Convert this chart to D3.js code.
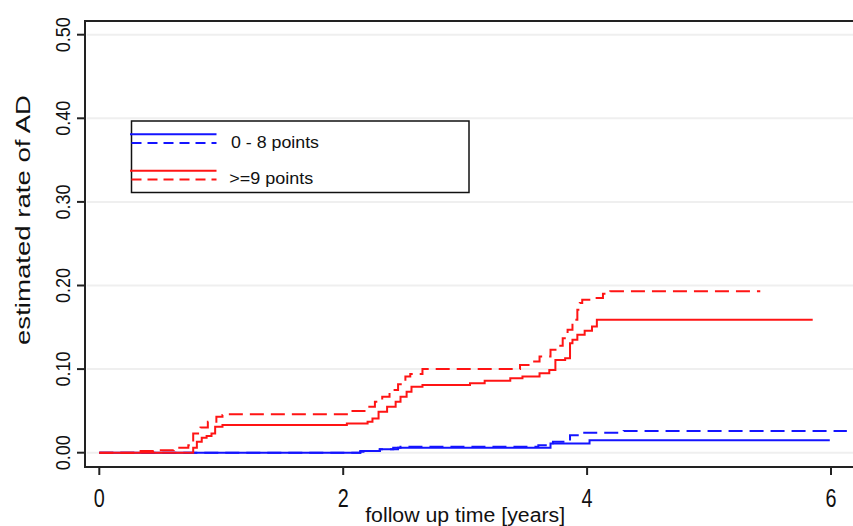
<!DOCTYPE html>
<html>
<head>
<meta charset="utf-8">
<script src="https://cdn.jsdelivr.net/npm/d3@7"></script>
<style>
  body { margin: 0; background: #fff; }
  text { font-family: "Liberation Sans", Arial, sans-serif; fill: #111; }
</style>
</head>
<body>
<div id="app"></div>
<script>
const width = 853;
const height = 526;

// tick values / labels
const xTicks = [0, 2, 4, 6];
const yTicks = [0, 0.1, 0.2, 0.3, 0.4, 0.5];
const yTickLabels = ["0.00", "0.10", "0.20", "0.30", "0.40", "0.50"];

// step curves: [years, rate] at each step
const blueSolid = [
  [0, 0], [2.14, 0.002], [2.3, 0.004], [2.45, 0.006], [3.7, 0.011],
  [4.02, 0.015], [5.99, 0.015]
];
const blueDashed = [
  [0, 0], [2.14, 0.001], [2.22, 0.002], [2.3, 0.004], [2.41, 0.006],
  [2.47, 0.007], [3.6, 0.009], [3.72, 0.013], [3.86, 0.021], [3.96, 0.024],
  [4.3, 0.026], [6.13, 0.026]
];
const redSolid = [
  [0, 0], [0.77, 0.006], [0.8, 0.013], [0.84, 0.018], [0.88, 0.02],
  [0.92, 0.023], [0.95, 0.031], [1.01, 0.033], [2.03, 0.035], [2.2, 0.037],
  [2.24, 0.041], [2.29, 0.049], [2.36, 0.055], [2.43, 0.061], [2.47, 0.067],
  [2.52, 0.073], [2.56, 0.079], [2.65, 0.081], [3.04, 0.083], [3.16, 0.086],
  [3.37, 0.089], [3.47, 0.091], [3.61, 0.095], [3.69, 0.099], [3.74, 0.111],
  [3.82, 0.113], [3.86, 0.131], [3.88, 0.135], [3.92, 0.141], [3.98, 0.146],
  [4.04, 0.151], [4.08, 0.159], [5.85, 0.159]
];
const redDashed = [
  [0, 0], [0.29, 0.002], [0.44, 0.003], [0.61, 0.006], [0.73, 0.009],
  [0.77, 0.023], [0.83, 0.03], [0.89, 0.037], [0.96, 0.043], [1.01, 0.045],
  [1.05, 0.046], [2.03, 0.05], [2.2, 0.055], [2.26, 0.061], [2.32, 0.067],
  [2.38, 0.075], [2.45, 0.082], [2.51, 0.091], [2.55, 0.094], [2.65, 0.1],
  [3.45, 0.105], [3.53, 0.109], [3.61, 0.115], [3.7, 0.123], [3.75, 0.128],
  [3.8, 0.137], [3.84, 0.147], [3.88, 0.159], [3.92, 0.171], [3.94, 0.179],
  [3.96, 0.183], [4.05, 0.185], [4.13, 0.19], [4.19, 0.193], [5.42, 0.193]
];

const legendLabels = ["0 - 8 points", ">=9 points"];
const colors = ["#1414ff", "#ff1414"];

const series = [
  { data: blueSolid, color: colors[0], dash: null },
  { data: blueDashed, color: colors[0], dash: "14,7" },
  { data: redDashed, color: colors[1], dash: "14,7" },
  { data: redSolid, color: colors[1], dash: null }
];

document.getElementById("app").innerHTML = `
  <svg width="${width}" height="${height}"></svg>
`;
const svg = d3.select("svg");

const frame = { left: 85, top: 21, bottom: 467 };
const x = d3.scaleLinear().domain([0, 6]).range([99.3, 831]);
const y = d3.scaleLinear().domain([0, 0.5]).range([452.7, 34.7]);

// faint grid
svg
  .append("g")
  .selectAll("line")
  .data(yTicks)
  .enter()
  .append("line")
  .attr("x1", frame.left + 2)
  .attr("x2", width)
  .attr("y1", d => y(d))
  .attr("y2", d => y(d))
  .style("stroke", "#efefef")
  .style("stroke-width", 2);

// frame
svg
  .append("path")
  .attr("d", `M${width + 5},${frame.top}H${frame.left}V${frame.bottom}H${width + 5}`)
  .style("fill", "none")
  .style("stroke", "#222")
  .style("stroke-width", 2);

// y ticks
svg
  .append("g")
  .selectAll("line")
  .data(yTicks)
  .enter()
  .append("line")
  .attr("x1", 77)
  .attr("x2", frame.left)
  .attr("y1", d => y(d))
  .attr("y2", d => y(d))
  .style("stroke", "#222")
  .style("stroke-width", 2);

svg
  .append("g")
  .selectAll("text")
  .data(yTicks)
  .enter()
  .append("text")
  .attr("transform", d => `translate(70,${y(d)}) rotate(-90)`)
  .attr("text-anchor", "middle")
  .attr("textLength", 35)
  .attr("lengthAdjust", "spacingAndGlyphs")
  .style("font-size", "21px")
  .text((_, i) => yTickLabels[i]);

// x ticks
svg
  .append("g")
  .selectAll("line")
  .data(xTicks)
  .enter()
  .append("line")
  .attr("x1", d => x(d))
  .attr("x2", d => x(d))
  .attr("y1", frame.bottom)
  .attr("y2", frame.bottom + 8)
  .style("stroke", "#222")
  .style("stroke-width", 2);

svg
  .append("g")
  .selectAll("text")
  .data(xTicks)
  .enter()
  .append("text")
  .attr("x", d => x(d))
  .attr("y", 507)
  .attr("text-anchor", "middle")
  .attr("textLength", 11)
  .attr("lengthAdjust", "spacingAndGlyphs")
  .style("font-size", "26px")
  .text(d => d);

// axis titles
svg
  .append("text")
  .attr("x", x(3))
  .attr("y", 522)
  .attr("text-anchor", "middle")
  .attr("textLength", 200)
  .attr("lengthAdjust", "spacingAndGlyphs")
  .style("font-size", "20px")
  .text("follow up time [years]");

svg
  .append("text")
  .attr("transform", "translate(30,220) rotate(-90)")
  .attr("text-anchor", "middle")
  .attr("textLength", 250)
  .attr("lengthAdjust", "spacingAndGlyphs")
  .style("font-size", "20px")
  .text("estimated rate of AD");

// curves
const line = d3
  .line()
  .x(d => x(d[0]))
  .y(d => y(d[1]))
  .curve(d3.curveStepAfter);

svg
  .append("g")
  .selectAll("path")
  .data(series)
  .enter()
  .append("path")
  .attr("d", d => line(d.data))
  .style("fill", "none")
  .style("stroke", d => d.color)
  .style("stroke-width", 2)
  .style("stroke-dasharray", d => d.dash);

// legend
const legend = svg.append("g");
legend
  .append("rect")
  .attr("x", 131.5)
  .attr("y", 121)
  .attr("width", 337.5)
  .attr("height", 71.5)
  .style("fill", "#fff")
  .style("stroke", "#111")
  .style("stroke-width", 1.5);

const legendItems = legend
  .selectAll("g")
  .data(legendLabels)
  .enter()
  .append("g")
  .attr("transform", (_, i) => `translate(0,${i * 36.5})`);

legendItems
  .append("line")
  .attr("x1", 130)
  .attr("x2", 216.5)
  .attr("y1", 134.3)
  .attr("y2", 134.3)
  .style("stroke", (_, i) => colors[i])
  .style("stroke-width", 2);

legendItems
  .append("line")
  .attr("x1", 131.5)
  .attr("x2", 216.5)
  .attr("y1", 143)
  .attr("y2", 143)
  .style("stroke", (_, i) => colors[i])
  .style("stroke-width", 2)
  .style("stroke-dasharray", "10,6");

legendItems
  .append("text")
  .attr("x", (_, i) => (i === 0 ? 231 : 229.3))
  .attr("y", 147.5)
  .attr("textLength", (_, i) => (i === 0 ? 88 : 84))
  .attr("lengthAdjust", "spacingAndGlyphs")
  .style("font-size", "16px")
  .text(d => d);
</script>
</body>
</html>
